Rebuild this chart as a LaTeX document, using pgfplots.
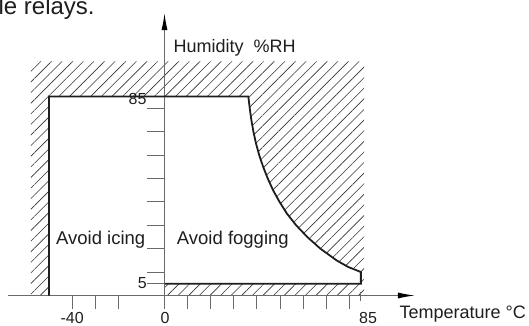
\documentclass[border=0pt]{standalone}
\usepackage{fontspec}
\setmainfont{Liberation Sans}
\usepackage{pgfplots}
\pgfplotsset{compat=1.18}
\usetikzlibrary{arrows.meta,patterns.meta}
\definecolor{ink}{HTML}{1E1E1E}
\definecolor{axgray}{HTML}{6A6A6A}
\begin{document}
\begin{tikzpicture}
\begin{axis}[
  x=2.31pt, y=2.34pt,
  xmin=-71.21, xmax=157.79, ymin=-12.61, ymax=126.28,
  hide axis, clip=false,
]
% hatched (forbidden) region
\addplot[draw=none, pattern={Lines[angle=45,distance=7.5pt,line width=0.6pt]}, pattern color=black!80] coordinates {
 (-57.8,0) (-50,0) (-50,85) (36.3,85) (36.9,80) (37.6,75) (38.5,70) (39.6,65) (41.0,60) (42.7,55)
 (44.7,50) (47.0,45) (49.8,40) (53.0,35) (57.0,30) (61.8,25) (67.5,20) (74.5,15) (79.5,12.2)
 (84.6,10.2) (85,10) (85,5) (0,5) (0,0) (86.4,0) (86.4,100) (-57.8,100)} -- cycle;
% axes
\addplot[axgray, line width=1pt, -{Latex[length=17pt,width=6pt,color=black]}] coordinates {(0,-5.8) (0,120.7)};
\addplot[axgray, line width=1pt, -{Latex[length=17pt,width=6pt,color=black]}] coordinates {(-67.7,0) (108.4,0)};
% y ticks
\addplot[axgray, line width=0.9pt, unbounded coords=jump] coordinates {
 (-7.6,5) (0,5) (nan,nan) (-7.6,10) (0,10) (nan,nan) (-7.6,20) (0,20) (nan,nan) (-7.6,30) (0,30) (nan,nan)
 (-7.6,40) (0,40) (nan,nan) (-7.6,50) (0,50) (nan,nan) (-7.6,60) (0,60) (nan,nan) (-7.6,70) (0,70) (nan,nan)
 (-7.6,80) (0,80)};
% x ticks
\addplot[axgray, line width=0.9pt, unbounded coords=jump] coordinates {
 (-40,0) (-40,-5.8) (nan,nan) (-30,0) (-30,-5.8) (nan,nan) (-20,0) (-20,-5.8) (nan,nan)
 (10,0) (10,-5.8) (nan,nan) (20,0) (20,-5.8) (nan,nan) (30,0) (30,-5.8) (nan,nan) (40,0) (40,-5.8) (nan,nan)
 (50,0) (50,-5.8) (nan,nan) (60,0) (60,-5.8) (nan,nan) (70,0) (70,-5.8) (nan,nan) (80,0) (80,-5.8) (nan,nan)
 (85,1.5) (85,-2.5)};
% operating boundary
\addplot[ink, line width=1.8pt, line join=miter] coordinates {
 (-50,0) (-50,85) (36.3,85) (36.9,80) (37.6,75) (38.5,70) (39.6,65) (41.0,60) (42.7,55)
 (44.7,50) (47.0,45) (49.8,40) (53.0,35) (57.0,30) (61.8,25) (67.5,20) (74.5,15) (79.5,12.2)
 (84.6,10.2) (85,10) (85,5) (0,5)};
% labels
\tikzset{lab/.style={inner sep=0pt, text=ink, font=\fontsize{18}{20}\selectfont}}
\tikzset{tl/.style={inner sep=0pt, text=ink, font=\fontsize{16}{18}\selectfont}}
\node[anchor=base west, inner sep=0pt, text=ink, font=\fontsize{24}{26}\selectfont] at (axis cs:-71.9,119.9) {le relays.};
\node[lab, anchor=base west] at (axis cs:3.9,104) {Humidity\ \ \%RH};
\node[lab, anchor=base west] at (axis cs:101.7,-9.74) {Temperature °C};
\node[lab, anchor=base west, font=\fontsize{18.5}{20}\selectfont] at (axis cs:-47.0,21.6) {Avoid icing};
\node[lab, anchor=base west, font=\fontsize{18.5}{20}\selectfont] at (axis cs:5.3,21.6) {Avoid fogging};
\node[tl, anchor=base] at (axis cs:-40,-11.75) {-40};
\node[tl, anchor=base] at (axis cs:0.2,-11.75) {0};
\node[tl, anchor=base] at (axis cs:88.1,-11.75) {85};
\node[tl, anchor=east] at (axis cs:-7.6,5.3) {5};
\node[tl, anchor=east] at (axis cs:-7.7,84.0) {85};
\coordinate (BL) at (axis cs:-71.21,-12.61);
\coordinate (TR) at (axis cs:157.79,126.28);
\end{axis}
\pgfresetboundingbox
\useasboundingbox (BL) rectangle (TR);
\end{tikzpicture}
\end{document}
